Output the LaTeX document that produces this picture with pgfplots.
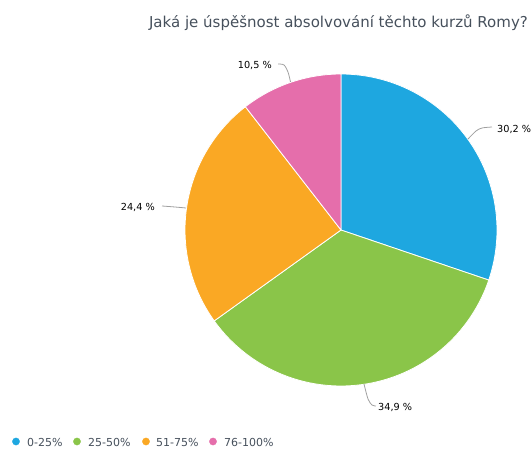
\documentclass[border=0pt]{standalone}
\usepackage{pgfplots}
\pgfplotsset{compat=1.18}
\usepackage{fontspec}
\setmainfont{DejaVu Sans}

\definecolor{cBlue}{RGB}{30,167,224}
\definecolor{cGreen}{RGB}{138,197,73}
\definecolor{cOrange}{RGB}{250,168,36}
\definecolor{cPink}{RGB}{229,110,171}
\definecolor{cTitle}{RGB}{70,80,92}
\definecolor{cLead}{RGB}{160,160,160}

% shares: 30.2, 34.9, 24.4, 10.5 % -> clockwise from the top
% slice angles (deg): 90 | -18.72 | -144.36 | -232.2 | -270

\begin{document}
\begin{tikzpicture}
\begin{axis}[
  width=532pt, height=449pt, scale only axis,
  xmin=0, xmax=532, ymin=0, ymax=449,
  y dir=reverse,
  hide axis, clip=false,
  trig format plots=deg,
]
\addplot[draw=none] coordinates {(0,0) (532,449)};

% slices
\addplot[fill=cBlue, draw=white, line width=0.8pt, domain=-18.72:90, samples=60, variable=\t]
  ({341+156*cos(\t)}, {230-156*sin(\t)}) -- (axis cs:341,230) -- cycle;
\addplot[fill=cGreen, draw=white, line width=0.8pt, domain=-144.36:-18.72, samples=60, variable=\t]
  ({341+156*cos(\t)}, {230-156*sin(\t)}) -- (axis cs:341,230) -- cycle;
\addplot[fill=cOrange, draw=white, line width=0.8pt, domain=-232.2:-144.36, samples=60, variable=\t]
  ({341+156*cos(\t)}, {230-156*sin(\t)}) -- (axis cs:341,230) -- cycle;
\addplot[fill=cPink, draw=white, line width=0.8pt, domain=-270:-232.2, samples=40, variable=\t]
  ({341+156*cos(\t)}, {230-156*sin(\t)}) -- (axis cs:341,230) -- cycle;

% leader lines
\addplot[cLead, line width=0.8pt, smooth] coordinates {(468,139) (476,131) (482,128) (492,127)};
\addplot[cLead, line width=0.8pt, smooth] coordinates {(364,384) (368,399) (372,405) (376,406)};
\addplot[cLead, line width=0.8pt, smooth] coordinates {(186,208) (175,207) (162,206)};
\addplot[cLead, line width=0.8pt, smooth] coordinates {(290.5,82) (288,72) (284,65) (278,64)};

\tikzset{lbl/.style={inner sep=0pt, font=\fontsize{9.7}{11}\selectfont},
         leg/.style={anchor=west, inner sep=0pt, text=cTitle, font=\fontsize{11}{12}\selectfont}}
% labels
\node[lbl, anchor=west] at (axis cs:497,129) {30,2 \%};
\node[lbl, anchor=west] at (axis cs:378,407) {34,9 \%};
\node[lbl, anchor=east] at (axis cs:155,207) {24,4 \%};
\node[lbl, anchor=east] at (axis cs:272,65) {10,5 \%};

% title
\node[anchor=east, inner sep=0pt, text=cTitle, font=\fontsize{15}{17}\selectfont] at (axis cs:528,23) {Jaká je úspěšnost absolvování těchto kurzů Romy?};

% legend
\addplot[only marks, mark=*, mark size=3.6pt, color=cBlue] coordinates {(16,441.5)};
\addplot[only marks, mark=*, mark size=3.6pt, color=cGreen] coordinates {(77,441.5)};
\addplot[only marks, mark=*, mark size=3.6pt, color=cOrange] coordinates {(146,441.5)};
\addplot[only marks, mark=*, mark size=3.6pt, color=cPink] coordinates {(213,441.5)};
\node[leg] at (axis cs:27,442) {0-25\%};
\node[leg] at (axis cs:88,442) {25-50\%};
\node[leg] at (axis cs:156,442) {51-75\%};
\node[leg] at (axis cs:224,442) {76-100\%};
\end{axis}
\end{tikzpicture}
\end{document}
